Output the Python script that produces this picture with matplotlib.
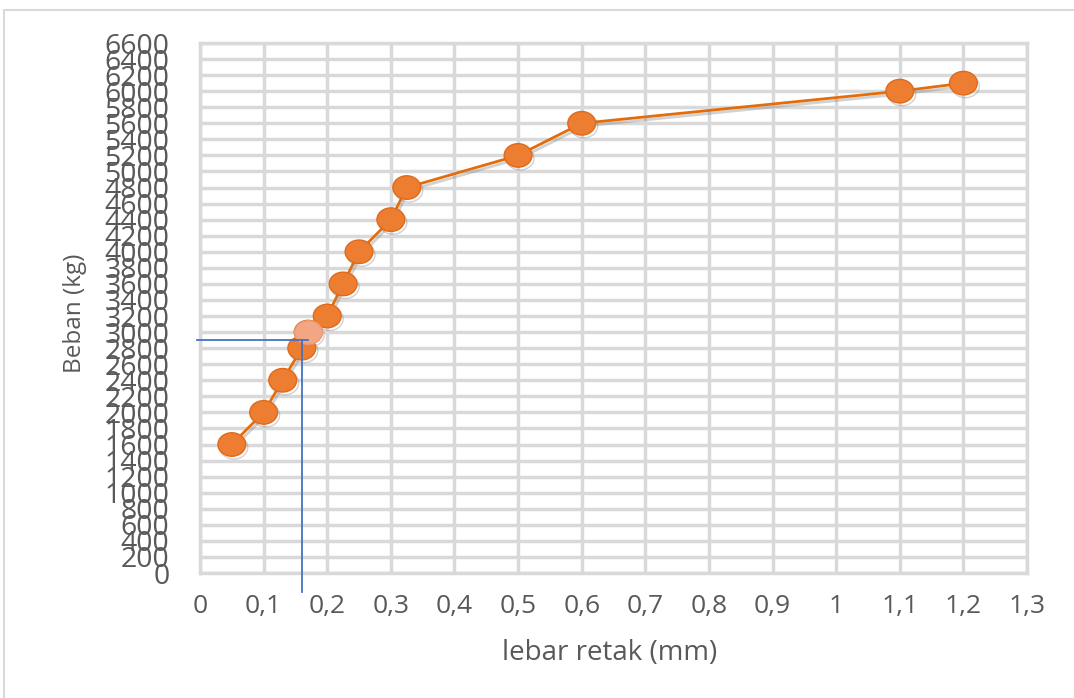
import matplotlib
matplotlib.use("Agg")
import matplotlib.pyplot as plt
import matplotlib.patheffects as pe
from matplotlib.path import Path
from matplotlib.patches import Rectangle
import numpy as np

# Data
lebar_retak = [0.05, 0.10, 0.13, 0.16, 0.17, 0.20, 0.225, 0.25, 0.30, 0.325, 0.50, 0.60, 1.10, 1.20]
beban = [1600, 2000, 2400, 2800, 3000, 3200, 3600, 4000, 4400, 4800, 5200, 5600, 6000, 6100]
highlight_x = [0.17]
highlight_y = [3000]
guide_x = 0.16
guide_y = 2900
x_ticks = [round(0.1 * i, 1) for i in range(14)]
y_ticks = list(range(0, 6601, 200))

plt.rcParams['font.family'] = ['Open Sans', 'DejaVu Sans']

fig = plt.figure(figsize=(10.74, 6.98), dpi=100)
fig.patches.append(Rectangle((4 / 1074, -0.01), 1.02, 1 - 10 / 698 + 0.01,
                             transform=fig.transFigure, fill=False,
                             edgecolor='#d9d9d9', linewidth=1.5))
ax = fig.add_axes([200 / 1074, 1 - 573 / 698, 827 / 1074, 530 / 698])

# elliptical marker (slightly wider than tall)
circ = Path.unit_circle()
ell = Path(circ.vertices * np.array([1.18, 1.0]), circ.codes)

orange = '#ED7D31'
shadow = [pe.SimpleLineShadow(offset=(1.5, -2), shadow_color='#7f7f7f', alpha=0.35), pe.Normal()]
ax.plot(lebar_retak, beban, color='#E46C0A', linewidth=2, marker=ell, markersize=20,
        markerfacecolor=orange, markeredgecolor='#E06A1B', markeredgewidth=1,
        zorder=3, path_effects=shadow)
ax.plot(highlight_x, highlight_y, linestyle='none', marker=ell, markersize=20,
        markerfacecolor='#F3A683', markeredgecolor='#EE9A74', markeredgewidth=1, zorder=4)

# guide lines
blue = '#4472C4'
ax.plot([-0.005, highlight_x[0]], [guide_y, guide_y], color=blue, linewidth=1.3,
        clip_on=False, zorder=5)
ax.plot([guide_x, guide_x], [-240, guide_y], color=blue, linewidth=1.3,
        clip_on=False, zorder=5)

ax.set_xlim(0, 1.3)
ax.set_ylim(0, 6600)
ax.set_xticks(x_ticks)
ax.set_xticklabels([('%g' % v).replace('.', ',') for v in x_ticks])
ax.set_yticks(y_ticks)
ax.set_yticklabels([str(v) for v in y_ticks])
ax.grid(True, color='#d9d9d9', linewidth=2.5, zorder=0)
ax.set_axisbelow(True)
for s in ax.spines.values():
    s.set_color('#d9d9d9')
    s.set_linewidth(2.5)
ax.tick_params(axis='x', length=0, pad=15, labelsize=19, labelcolor='#595959')
ax.tick_params(axis='y', length=0, pad=22, labelsize=20.5, labelcolor='#595959')

fig.text(75 / 1074, 1 - 313 / 698, 'Beban (kg)', rotation=90, ha='center', va='center',
         fontsize=17.5, color='#595959')
fig.text(610 / 1074, 1 - 653 / 698, 'lebar retak (mm)', ha='center', va='center',
         fontsize=20, color='#595959')

fig.savefig('out.png', dpi=100)
